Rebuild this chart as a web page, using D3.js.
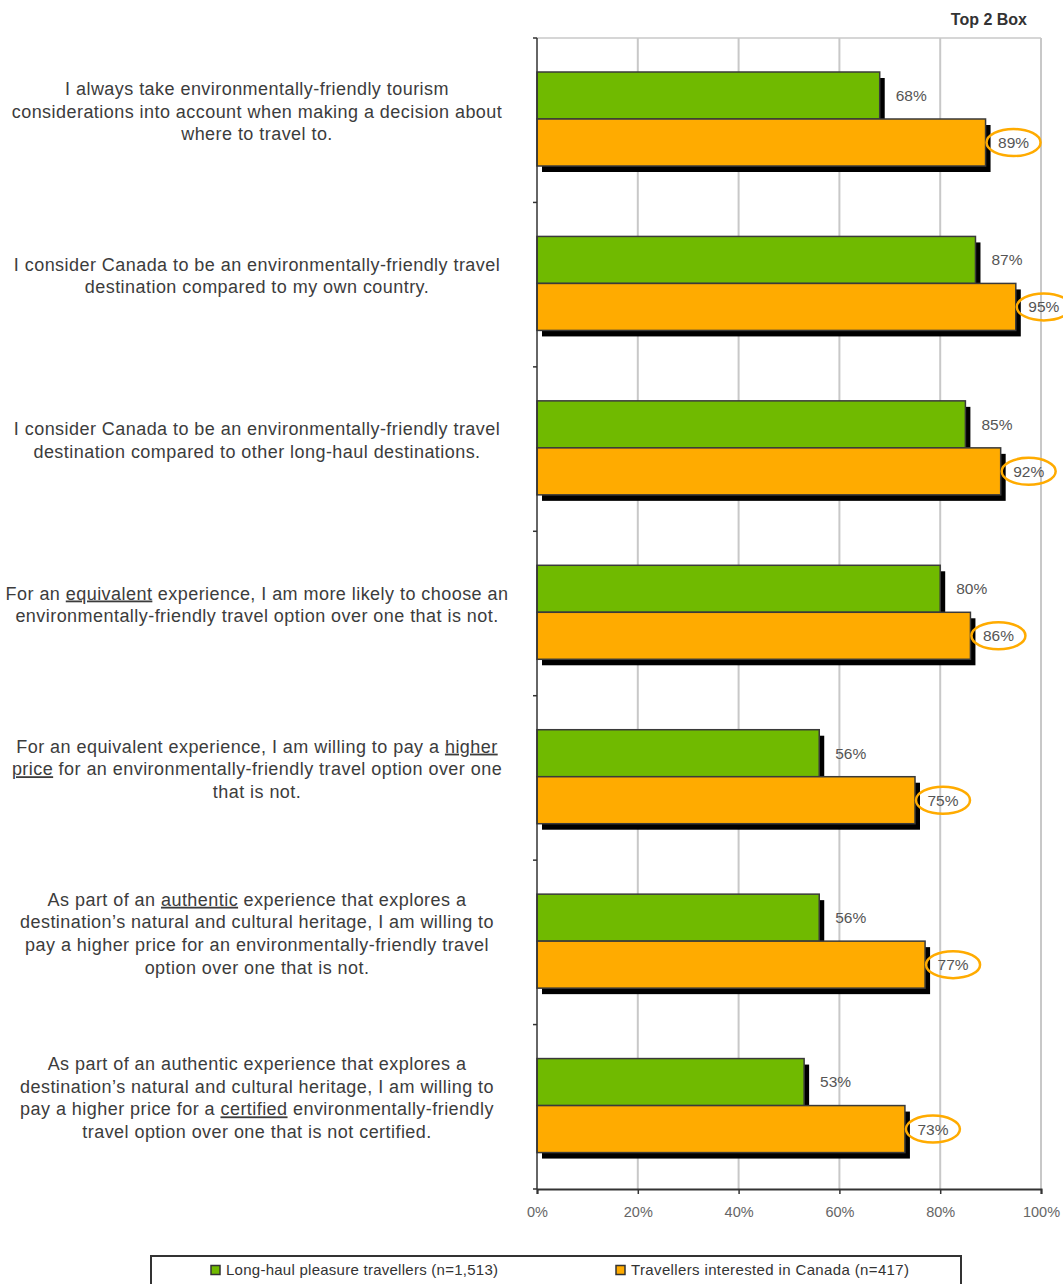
<!DOCTYPE html>
<html>
<head>
<meta charset="utf-8">
<script src="https://cdn.jsdelivr.net/npm/d3@7"></script>
<style>
  body { margin: 0; background: #fff; }
  svg { display: block; font-family: "Liberation Sans", Arial, sans-serif; }
</style>
</head>
<body>
<svg id="chart" width="1063" height="1284"></svg>
<script>
// statements, words in [brackets] are underlined
const statements = [
  ["I always take environmentally-friendly tourism",
   "considerations into account when making a decision about",
   "where to travel to."],
  ["I consider Canada to be an environmentally-friendly travel",
   "destination compared to my own country."],
  ["I consider Canada to be an environmentally-friendly travel",
   "destination compared to other long-haul destinations."],
  ["For an [equivalent] experience, I am more likely to choose an",
   "environmentally-friendly travel option over one that is not."],
  ["For an equivalent experience, I am willing to pay a [higher]",
   "[price] for an environmentally-friendly travel option over one",
   "that is not."],
  ["As part of an [authentic] experience that explores a",
   "destination\u2019s natural and cultural heritage, I am willing to",
   "pay a higher price for an environmentally-friendly travel",
   "option over one that is not."],
  ["As part of an authentic experience that explores a",
   "destination\u2019s natural and cultural heritage, I am willing to",
   "pay a higher price for a [certified] environmentally-friendly",
   "travel option over one that is not certified."]
];
const longHaul = [68, 87, 85, 80, 56, 56, 53];
const canada = [89, 95, 92, 86, 75, 77, 73];
const seriesNames = ["Long-haul pleasure travellers (n=1,513)", "Travellers interested in Canada (n=417)"];
const xTicks = [0, 20, 40, 60, 80, 100];

const GREEN = '#70ba00';
const ORANGE = '#ffab00';

const svg = d3.select('#chart');
const margin = { top: 38, left: 537, right: 22, bottom: 95 };
const width = 1063 - margin.left - margin.right;
const height = 1284 - margin.top - margin.bottom;

const idx = d3.range(statements.length);
const y = d3.scaleBand().domain(idx).range([margin.top, margin.top + height]);
const x = d3.scaleLinear().domain([0, 100]).range([margin.left, margin.left + width]);
const inner = d3.scaleBand().domain(['a', 'b']).range([34, 128]);

// gridlines + plot frame
svg.append('g').selectAll('line')
  .data(xTicks.slice(1))
  .join('line')
  .attr('x1', d => x(d)).attr('x2', d => x(d))
  .attr('y1', margin.top).attr('y2', margin.top + height)
  .attr('stroke', '#c8c8c8').attr('stroke-width', 2);
svg.append('line')
  .attr('x1', x(0)).attr('x2', x(100))
  .attr('y1', margin.top).attr('y2', margin.top)
  .attr('stroke', '#c8c8c8').attr('stroke-width', 1.5);

// bars data
const rows = idx.map(i => ({ i, a: longHaul[i], b: canada[i] }));
const bars = [];
rows.forEach(r => {
  bars.push({ i: r.i, key: 'a', v: r.a, color: GREEN });
  bars.push({ i: r.i, key: 'b', v: r.b, color: ORANGE });
});

// shadows
svg.append('g').selectAll('rect')
  .data(bars)
  .join('rect')
  .attr('x', x(0) + 5)
  .attr('y', d => y(d.i) + inner(d.key) + 6)
  .attr('width', d => x(d.v) - x(0))
  .attr('height', inner.bandwidth())
  .attr('fill', '#000');

svg.append('g').selectAll('rect')
  .data(bars)
  .join('rect')
  .attr('x', x(0))
  .attr('y', d => y(d.i) + inner(d.key))
  .attr('width', d => x(d.v) - x(0))
  .attr('height', inner.bandwidth())
  .attr('fill', d => d.color)
  .attr('stroke', '#3a3a3a')
  .attr('stroke-width', 1.5);

// value labels
svg.append('g').selectAll('text')
  .data(bars.filter(d => d.key === 'a'))
  .join('text')
  .attr('x', d => x(d.v) + 16)
  .attr('y', d => y(d.i) + inner('a') + inner.bandwidth() / 2)
  .attr('dy', '0.35em')
  .attr('font-size', 15.5)
  .attr('fill', '#555')
  .text(d => d.v + '%');

const circled = svg.append('g').selectAll('g')
  .data(bars.filter(d => d.key === 'b'))
  .join('g')
  .attr('transform', d => `translate(${x(d.v) + 28},${y(d.i) + inner('b') + inner.bandwidth() / 2})`);
circled.append('text')
  .attr('text-anchor', 'middle')
  .attr('dy', '0.35em')
  .attr('font-size', 15.5)
  .attr('fill', '#555')
  .text(d => d.v + '%');
circled.append('ellipse')
  .attr('rx', 27).attr('ry', 13.5)
  .attr('fill', 'none')
  .attr('stroke', ORANGE)
  .attr('stroke-width', 2.5);

// left axis with ticks at band boundaries
const leftAxis = svg.append('g');
leftAxis.append('line')
  .attr('x1', x(0)).attr('x2', x(0))
  .attr('y1', margin.top).attr('y2', margin.top + height)
  .attr('stroke', '#333').attr('stroke-width', 1.5);
leftAxis.selectAll('.tick')
  .data(d3.range(statements.length + 1))
  .join('line')
  .attr('x1', x(0) - 4).attr('x2', x(0))
  .attr('y1', d => margin.top + d * y.step())
  .attr('y2', d => margin.top + d * y.step())
  .attr('stroke', '#333').attr('stroke-width', 1.5);

// bottom axis
const xAxis = svg.append('g')
  .attr('transform', `translate(0,${margin.top + height})`)
  .call(d3.axisBottom(x).tickValues(xTicks).tickSize(5).tickPadding(13).tickFormat(d => d + '%'));
xAxis.select('.domain').attr('stroke', '#333').attr('stroke-width', 2);
xAxis.selectAll('.tick line').attr('stroke', '#333').attr('stroke-width', 1.5);
xAxis.selectAll('.tick text').attr('font-size', 14.5).attr('fill', '#666')
  .attr('font-family', '"Liberation Sans", Arial, sans-serif');

// category labels
const lineH = 22.6;
const labels = svg.append('g').selectAll('text')
  .data(idx)
  .join('text')
  .attr('text-anchor', 'middle')
  .attr('font-size', 18)
  .attr('letter-spacing', 0.45)
  .attr('fill', '#3c3c3c');
labels.each(function(i) {
  const lines = statements[i];
  const cy = y(i) + y.bandwidth() / 2 - 9;
  const y0 = cy - (lines.length - 1) * lineH / 2;
  lines.forEach((ln, k) => {
    const row = d3.select(this).append('tspan')
      .attr('x', 257)
      .attr('y', y0 + k * lineH)
      .attr('dy', '0.35em');
    ln.split(/(\[[^\]]+\])/).filter(s => s.length).forEach(part => {
      const u = part.startsWith('[');
      row.append('tspan')
        .attr('text-decoration', u ? 'underline' : null)
        .text(u ? part.slice(1, -1) : part);
    });
  });
});

// title
svg.append('text')
  .attr('x', 1027).attr('y', 25)
  .attr('text-anchor', 'end')
  .attr('font-size', 16)
  .attr('font-weight', 'bold')
  .attr('fill', '#333')
  .text('Top 2 Box');

// legend
const legend = svg.append('g');
legend.append('rect')
  .attr('x', 151).attr('y', 1256)
  .attr('width', 810).attr('height', 40)
  .attr('fill', '#fff')
  .attr('stroke', '#333').attr('stroke-width', 2);
const legendX = [211, 616];
const item = legend.selectAll('g')
  .data(seriesNames)
  .join('g')
  .attr('transform', (d, i) => `translate(${legendX[i]},1270)`);
item.append('rect')
  .attr('x', 0).attr('y', -4.5)
  .attr('width', 9).attr('height', 9)
  .attr('fill', (d, i) => [GREEN, ORANGE][i])
  .attr('stroke', '#333').attr('stroke-width', 1.5);
item.append('text')
  .attr('x', 15)
  .attr('dy', '0.35em')
  .attr('font-size', 15)
  .attr('fill', '#333')
  .attr('textLength', (d, i) => [272, 278][i])
  .text(d => d);
</script>
</body>
</html>
